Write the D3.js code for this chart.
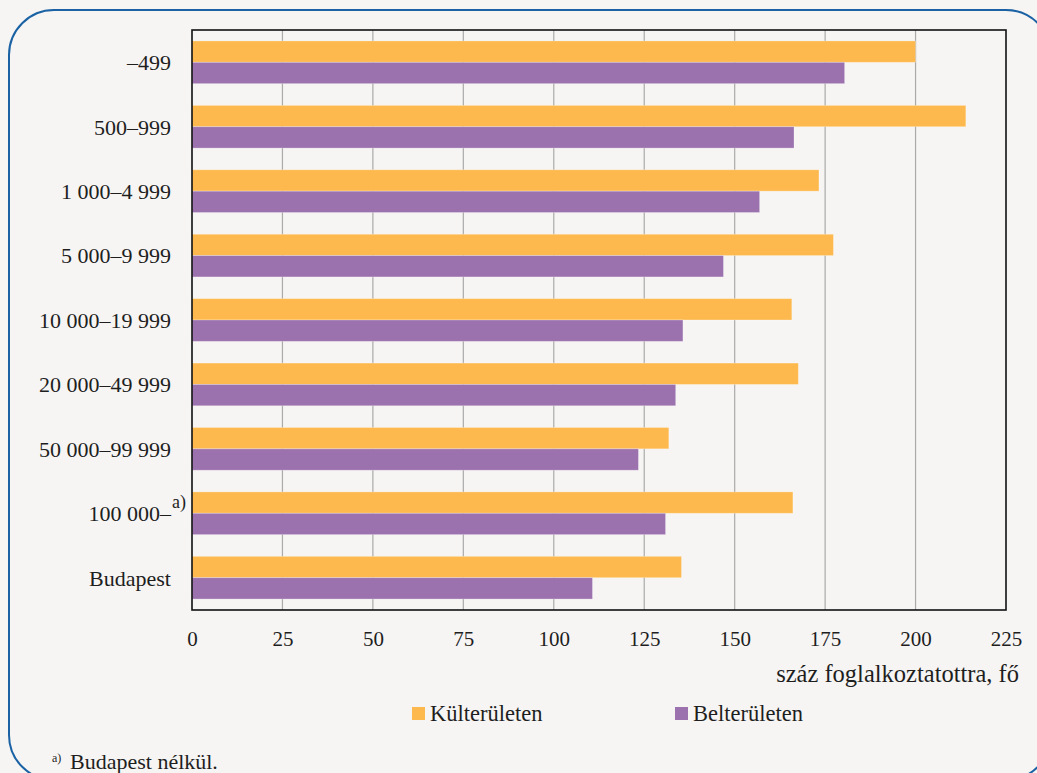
<!DOCTYPE html>
<html><head><meta charset="utf-8">
<script src="https://cdn.jsdelivr.net/npm/d3@7"></script>
<style>
html,body{margin:0;padding:0;background:#f6f5f3;}
</style></head>
<body><svg id="c" width="1037" height="773"></svg>
<script>
const categories = ["–499","500–999","1 000–4 999","5 000–9 999","10 000–19 999","20 000–49 999","50 000–99 999","100 000–","Budapest"];
const seriesNames = ["Külterületen","Belterületen"];
const kulterulet = [200.0, 213.9, 173.3, 177.3, 165.8, 167.6, 131.8, 166.1, 135.3];
const belterulet = [180.4, 166.4, 156.9, 146.9, 135.7, 133.7, 123.4, 130.9, 110.7];
const xTicks = [0,25,50,75,100,125,150,175,200,225];
const colors = ["#fdb94d","#9b72ad"];

const FONT = "'Liberation Serif', 'Times New Roman', serif";
const TXT = "#1e1e1e";
const svg = d3.select("#c");
const W = 1037, H = 773;
svg.append("rect").attr("width",W).attr("height",H).attr("fill","#f6f5f3");
// frame
svg.append("rect").attr("x",9).attr("y",10).attr("width",1042).attr("height",770)
  .attr("rx",45).attr("ry",45).attr("fill","none").attr("stroke","#1b62a4").attr("stroke-width",2);

const m = {left:192, right:1006, top:30, bottom:610};
const x = d3.scaleLinear().domain([0,225]).range([m.left,m.right]);
const y = d3.scaleBand().domain(categories).range([m.top,m.bottom]).paddingInner(0.337).paddingOuter(0.17);
const ys = d3.scaleBand().domain(seriesNames).range([0,y.bandwidth()]);

// grid
svg.append("g").selectAll("line").data(xTicks.filter(t=>t>0&&t<225)).join("line")
  .attr("x1",d=>x(d)).attr("x2",d=>x(d)).attr("y1",m.top).attr("y2",m.bottom)
  .attr("stroke","#aaaaaa").attr("stroke-width",1.2);

const series = [kulterulet, belterulet];
series.forEach((vals,si)=>{
  svg.append("g").selectAll("rect").data(vals).join("rect")
    .attr("x",x(0)).attr("y",(d,i)=>y(categories[i])+ys(seriesNames[si]))
    .attr("width",d=>x(d)-x(0)).attr("height",ys.bandwidth())
    .attr("fill",colors[si]).attr("stroke","rgba(255,255,255,0.35)").attr("stroke-width",0.8);
});

// plot border
svg.append("rect").attr("x",m.left).attr("y",m.top).attr("width",m.right-m.left).attr("height",m.bottom-m.top)
  .attr("fill","none").attr("stroke","#111").attr("stroke-width",1.6);

// x axis labels
const xa = d3.axisBottom(x).tickValues(xTicks).tickSize(0).tickPadding(0);
const gx = svg.append("g").attr("transform",`translate(0,${m.bottom})`).call(xa);
gx.select(".domain").remove();
gx.selectAll("text").attr("y",36).attr("dy",0).attr("fill",TXT)
  .style("font-family",FONT).style("font-size","21px");

// y axis labels
const ya = d3.axisLeft(y).tickSize(0).tickPadding(0);
const gy = svg.append("g").attr("transform",`translate(171,0)`).call(ya);
gy.select(".domain").remove();
gy.selectAll("text").attr("x",0).attr("dy","0.36em").attr("fill",TXT)
  .style("font-family",FONT).style("font-size","22px");
// superscript a)
svg.append("text").attr("x",172).attr("y",y("100 000–")+y.bandwidth()/2-5)
  .style("font-family",FONT).style("font-size","18px").attr("fill",TXT).text("a)");

// axis title
svg.append("text").attr("x",1019).attr("y",682).attr("text-anchor","end")
  .style("font-family",FONT).style("font-size","24.5px").attr("fill",TXT).text("száz foglalkoztatottra, fő");

// legend
const legX = [412, 675];
seriesNames.forEach((n,i)=>{
  svg.append("rect").attr("x",legX[i]).attr("y",707).attr("width",13).attr("height",13).attr("fill",colors[i]);
  svg.append("text").attr("x",legX[i]+18).attr("y",721)
    .style("font-family",FONT).style("font-size","22.5px").attr("fill",TXT).text(n);
});

// footnote
svg.append("text").attr("x",52).attr("y",762).style("font-family",FONT).style("font-size","12px").attr("fill",TXT).text("a)");
svg.append("text").attr("x",70).attr("y",769).style("font-family",FONT).style("font-size","22px").attr("fill",TXT).text("Budapest nélkül.");
</script></body></html>
